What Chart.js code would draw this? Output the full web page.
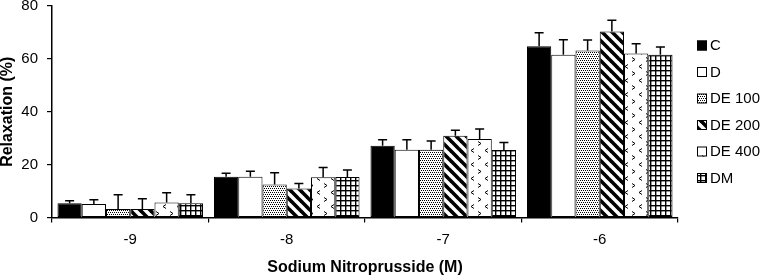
<!DOCTYPE html>
<html>
<head>
<meta charset="utf-8">
<script src="https://cdn.jsdelivr.net/npm/chart.js@4/dist/chart.umd.min.js"></script>
<style>
  html, body { margin: 0; padding: 0; background: #fff; }
  #wrap { width: 763px; height: 279px; position: relative; }
</style>
</head>
<body>
<div id="wrap"><canvas id="c"></canvas></div>
<script>
// ---- Data ----
const categories = ['-9', '-8', '-7', '-6'];
const seriesNames = ['C', 'D', 'DE 100', 'DE 200', 'DE 400', 'DM'];
const valuesC     = [5.4, 15.4, 27.1, 64.8];
const valuesD     = [5.1, 15.4, 25.6, 61.6];
const valuesDE100 = [3.2, 12.5, 25.6, 63.2];
const valuesDE200 = [3.2, 11.0, 30.9, 70.4];
const valuesDE400 = [5.7, 15.2, 29.7, 62.0];
const valuesDM    = [5.4, 15.3, 25.5, 61.6];
const errC     = [0.9, 1.3, 2.3, 5.1];
const errD     = [1.6, 2.1, 3.8, 5.6];
const errDE100 = [5.4, 4.4, 3.3, 3.9];
const errDE200 = [3.9, 1.9, 2.1, 4.2];
const errDE400 = [3.7, 3.7, 3.8, 3.7];
const errDM    = [3.2, 2.7, 2.9, 2.9];
const yTicks = [0, 20, 40, 60, 80];
const xTitle = 'Sodium Nitroprusside (M)';
const yTitle = 'Relaxation (%)';

// ---- Patterns ----
function makeTile(w, h, draw) {
  const cv = document.createElement('canvas');
  cv.width = w; cv.height = h;
  const g = cv.getContext('2d');
  g.fillStyle = '#fff'; g.fillRect(0, 0, w, h);
  g.fillStyle = '#000'; g.strokeStyle = '#000';
  draw(g, w, h);
  return cv;
}
const tmpCtx = document.createElement('canvas').getContext('2d');
const dotsTile = makeTile(4, 4, (g) => {
  g.fillRect(0, 0, 1, 1); g.fillRect(2, 0, 1, 1);
  g.fillRect(1, 2, 1, 1); g.fillRect(3, 2, 1, 1);
});
const diagTile = makeTile(10, 10, (g, w, h) => {
  g.lineWidth = 3.6;
  for (let k = -1; k <= 1; k++) {
    g.beginPath(); g.moveTo(k * w - 2, -2); g.lineTo(k * w + w + 2, h + 2); g.stroke();
  }
});
const chevTile = makeTile(14, 14, (g) => {
  g.lineWidth = 1;
  g.beginPath(); g.moveTo(2, 1.5); g.lineTo(5, 3.5); g.lineTo(2, 5.5); g.stroke();
  g.beginPath(); g.moveTo(12, 8.5); g.lineTo(9, 10.5); g.lineTo(12, 12.5); g.stroke();
});
const gridTile = makeTile(5, 5, (g) => {
  g.fillRect(0, 0, 5, 1.4); g.fillRect(0, 0, 1.4, 5);
});
const fills = [
  '#000000',
  '#ffffff',
  tmpCtx.createPattern(dotsTile, 'repeat'),
  tmpCtx.createPattern(diagTile, 'repeat'),
  tmpCtx.createPattern(chevTile, 'repeat'),
  tmpCtx.createPattern(gridTile, 'repeat')
];
const seriesValues = [valuesC, valuesD, valuesDE100, valuesDE200, valuesDE400, valuesDM];
const seriesErrors = [errC, errD, errDE100, errDE200, errDE400, errDM];

const FONT = "'Liberation Sans', Arial, Helvetica, sans-serif";

// ---- Error bars plugin ----
const errorBars = {
  id: 'errorBars',
  afterDatasetsDraw(chart) {
    const ctx = chart.ctx;
    const ys = chart.scales.y;
    ctx.save();
    ctx.strokeStyle = '#000';
    ctx.lineWidth = 1.5;
    chart.data.datasets.forEach((ds, i) => {
      const meta = chart.getDatasetMeta(i);
      meta.data.forEach((bar, j) => {
        const v = ds.data[j], e = ds.errors[j];
        const yTop = ys.getPixelForValue(v + e);
        ctx.beginPath();
        ctx.moveTo(bar.x, bar.y);
        ctx.lineTo(bar.x, yTop);
        ctx.moveTo(bar.x - 4.5, yTop);
        ctx.lineTo(bar.x + 4.5, yTop);
        ctx.stroke();
      });
    });
    ctx.restore();
  }
};

// ---- Custom legend plugin ----
const sideLegend = {
  id: 'sideLegend',
  afterDraw(chart) {
    const ctx = chart.ctx;
    const ca = chart.chartArea;
    const cy = (ca.top + ca.bottom) / 2;
    const step = 26.5;
    const bx = ca.right + 19;
    ctx.save();
    ctx.font = '15px ' + FONT;
    ctx.textBaseline = 'middle';
    ctx.fillStyle = '#000';
    chart.data.datasets.forEach((ds, i) => {
      const y = cy + (i - 2.5) * step;
      ctx.fillStyle = ds.backgroundColor;
      ctx.fillRect(bx, y - 5, 10, 10);
      ctx.strokeStyle = '#000';
      ctx.lineWidth = 1;
      ctx.strokeRect(bx + 0.5, y - 4.5, 9, 9);
      ctx.fillStyle = '#000';
      ctx.fillText(ds.label, bx + 13, y + 0.5);
    });
    ctx.restore();
  }
};

new Chart(document.getElementById('c'), {
  type: 'bar',
  data: {
    labels: categories,
    datasets: seriesNames.map((name, i) => ({
      label: name,
      data: seriesValues[i],
      errors: seriesErrors[i],
      backgroundColor: fills[i],
      borderColor: '#000',
      borderWidth: 1,
      borderSkipped: false
    }))
  },
  options: {
    responsive: true,
    maintainAspectRatio: false,
    animation: false,
    devicePixelRatio: 1,
    datasets: { bar: { categoryPercentage: 0.93, barPercentage: 1.0 } },
    layout: { padding: { top: 6, right: 85, left: 0, bottom: 0 } },
    plugins: { legend: { display: false }, tooltip: { enabled: false } },
    scales: {
      x: {
        grid: { display: true, drawOnChartArea: false, drawTicks: true, tickLength: 5, color: '#000', lineWidth: 1.2, offset: true },
        border: { display: true, color: '#000', width: 1.5 },
        ticks: { color: '#000', font: { family: FONT, size: 15 }, padding: 8 },
        title: { display: true, text: xTitle, color: '#000', font: { family: FONT, size: 16, weight: 'bold', lineHeight: 1.2 }, padding: { top: 0, bottom: 2 } },
        afterFit(s) { s.height = 61.5; s.paddingLeft = 0; s.paddingRight = 0; }
      },
      y: {
        min: 0, max: 80,
        afterBuildTicks(s) { s.ticks = yTicks.map(v => ({ value: v })); },
        grid: { display: true, drawOnChartArea: false, drawTicks: true, tickLength: 5, color: '#000', lineWidth: 1.2 },
        border: { display: true, color: '#000', width: 1.5 },
        ticks: { color: '#000', font: { family: FONT, size: 15 }, padding: 9 },
        title: { display: true, text: yTitle, color: '#000', font: { family: FONT, size: 16, weight: 'bold', lineHeight: 1 }, padding: 0 },
        afterFit(s) { s.width = 52; s.paddingTop = 0; s.paddingBottom = 0; }
      }
    }
  },
  plugins: [errorBars, sideLegend]
});
</script>
</body>
</html>
